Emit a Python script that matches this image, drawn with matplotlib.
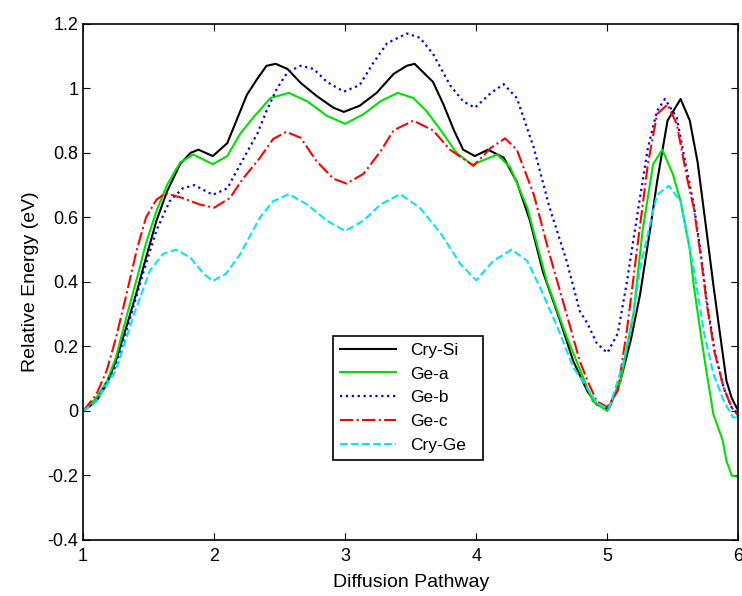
import matplotlib.pyplot as plt
from matplotlib.ticker import FuncFormatter

# Values
cry_si_x = [1.0, 1.10, 1.18, 1.25, 1.33, 1.41, 1.48, 1.56, 1.64, 1.74, 1.82, 1.88, 1.99,
            2.10, 2.17, 2.25, 2.33, 2.40, 2.47, 2.56, 2.66, 2.78, 2.91, 2.99, 3.11, 3.24,
            3.37, 3.47, 3.53, 3.67, 3.75, 3.83, 3.90, 3.99, 4.09, 4.21, 4.31, 4.41, 4.51,
            4.64, 4.74, 4.85, 4.92, 5.01, 5.10, 5.18, 5.25, 5.33, 5.38, 5.46, 5.56, 5.63,
            5.69, 5.76, 5.81, 5.86, 5.91, 5.95, 6.0]
cry_si_y = [0.0, 0.03, 0.083, 0.155, 0.26, 0.37, 0.475, 0.59, 0.68, 0.765, 0.80, 0.81, 0.79,
            0.83, 0.90, 0.98, 1.03, 1.07, 1.076, 1.06, 1.017, 0.977, 0.94, 0.927, 0.946, 0.986,
            1.045, 1.07, 1.076, 1.02, 0.95, 0.87, 0.81, 0.79, 0.81, 0.785, 0.71, 0.59, 0.43,
            0.28, 0.155, 0.06, 0.02, 0.005, 0.093, 0.22, 0.36, 0.57, 0.71, 0.90, 0.967, 0.90,
            0.77, 0.55, 0.39, 0.24, 0.093, 0.04, 0.0]

ge_a_x = [1.0, 1.10, 1.18, 1.25, 1.33, 1.41, 1.48, 1.56, 1.64, 1.74, 1.84, 1.99, 2.10,
          2.20, 2.30, 2.43, 2.57, 2.71, 2.86, 3.0, 3.14, 3.27, 3.40, 3.52, 3.62, 3.73,
          3.85, 3.97, 4.16, 4.26, 4.39, 4.54, 4.69, 4.79, 4.89, 5.0, 5.10, 5.20, 5.27,
          5.35, 5.42, 5.50, 5.56, 5.63, 5.66, 5.72, 5.76, 5.81, 5.88, 5.91, 5.95, 6.0]
ge_a_y = [0.0, 0.04, 0.09, 0.165, 0.29, 0.41, 0.52, 0.62, 0.70, 0.77, 0.795, 0.765, 0.79,
          0.86, 0.91, 0.97, 0.986, 0.96, 0.915, 0.89, 0.92, 0.96, 0.986, 0.97, 0.93, 0.87,
          0.80, 0.763, 0.795, 0.755, 0.63, 0.40, 0.23, 0.13, 0.03, 0.0, 0.09, 0.30, 0.56,
          0.765, 0.81, 0.735, 0.65, 0.50, 0.39, 0.22, 0.115, -0.01, -0.09, -0.155, -0.20, -0.205]

ge_b_x = [1.0, 1.10, 1.25, 1.36, 1.46, 1.56, 1.66, 1.76, 1.85, 1.99, 2.10, 2.20, 2.33,
          2.40, 2.48, 2.56, 2.66, 2.76, 2.86, 2.99, 3.11, 3.21, 3.32, 3.47, 3.57, 3.67,
          3.80, 3.90, 3.99, 4.11, 4.21, 4.31, 4.44, 4.56, 4.69, 4.79, 4.85, 4.92, 5.0,
          5.08, 5.15, 5.23, 5.31, 5.38, 5.44, 5.53, 5.61, 5.66, 5.71, 5.76, 5.82, 5.89,
          5.95, 6.0]
ge_b_y = [0.0, 0.03, 0.14, 0.29, 0.43, 0.56, 0.65, 0.69, 0.70, 0.67, 0.69, 0.765, 0.86,
          0.93, 1.0, 1.05, 1.07, 1.06, 1.02, 0.99, 1.01, 1.076, 1.14, 1.17, 1.157, 1.107,
          1.01, 0.96, 0.94, 0.985, 1.013, 0.97, 0.815, 0.63, 0.465, 0.31, 0.27, 0.21, 0.18,
          0.24, 0.40, 0.61, 0.815, 0.93, 0.967, 0.91, 0.74, 0.64, 0.50, 0.34, 0.186, 0.07,
          0.01, -0.01]

ge_c_x = [1.0, 1.10, 1.18, 1.25, 1.33, 1.41, 1.48, 1.56, 1.63, 1.76, 1.89, 2.0, 2.12,
          2.22, 2.35, 2.45, 2.55, 2.66, 2.78, 2.91, 3.01, 3.14, 3.27, 3.37, 3.52, 3.67,
          3.80, 3.98, 4.11, 4.22, 4.31, 4.44, 4.56, 4.69, 4.79, 4.85, 4.92, 5.0, 5.08,
          5.15, 5.23, 5.31, 5.38, 5.46, 5.53, 5.61, 5.66, 5.71, 5.76, 5.82, 5.89, 5.95, 6.0]
ge_c_y = [0.0, 0.05, 0.125, 0.225, 0.36, 0.50, 0.60, 0.655, 0.675, 0.66, 0.64, 0.63, 0.66,
          0.72, 0.785, 0.843, 0.865, 0.847, 0.775, 0.72, 0.705, 0.735, 0.805, 0.87, 0.90, 0.87,
          0.81, 0.76, 0.815, 0.845, 0.81, 0.67, 0.485, 0.30, 0.155, 0.093, 0.03, 0.012, 0.062,
          0.25, 0.51, 0.765, 0.92, 0.95, 0.89, 0.72, 0.63, 0.49, 0.33, 0.18, 0.07, 0.01, -0.015]

cry_ge_x = [1.0, 1.10, 1.25, 1.38, 1.51, 1.61, 1.71, 1.82, 1.92, 1.99, 2.09, 2.20, 2.35,
            2.45, 2.57, 2.71, 2.86, 3.0, 3.14, 3.27, 3.42, 3.57, 3.73, 3.88, 4.0, 4.13,
            4.27, 4.39, 4.49, 4.62, 4.74, 4.81, 4.92, 5.01, 5.12, 5.20, 5.25, 5.31, 5.38,
            5.47, 5.56, 5.66, 5.74, 5.81, 5.89, 5.96, 6.0]
cry_ge_y = [0.0, 0.03, 0.125, 0.29, 0.435, 0.487, 0.50, 0.475, 0.425, 0.403, 0.425, 0.487, 0.60,
            0.65, 0.672, 0.64, 0.59, 0.558, 0.59, 0.64, 0.672, 0.63, 0.55, 0.455, 0.405, 0.465,
            0.50, 0.465, 0.38, 0.26, 0.135, 0.095, 0.025, 0.005, 0.145, 0.30, 0.44, 0.55, 0.67,
            0.698, 0.65, 0.44, 0.24, 0.115, 0.03, -0.02, -0.02]

plt.rcParams['font.family'] = ['Liberation Sans', 'DejaVu Sans']

fig = plt.figure(figsize=(7.42, 5.96), dpi=100)
ax = fig.add_axes([0.112, 0.094, 0.883, 0.866])

ax.plot(cry_si_x, cry_si_y, color='black', linestyle='-', linewidth=1.5, label='Cry-Si')
ax.plot(ge_a_x, ge_a_y, color='#00e000', linestyle='-', linewidth=1.5, label='Ge-a')
ax.plot(ge_b_x, ge_b_y, color='#0000ff', linestyle=':', linewidth=1.6, label='Ge-b')
ax.plot(ge_c_x, ge_c_y, color='#ff0000', linestyle='-.', linewidth=1.5, label='Ge-c')
ax.plot(cry_ge_x, cry_ge_y, color='#00e5ff', linestyle='--', linewidth=1.5, label='Cry-Ge')

ax.set_xlim(1, 6)
ax.set_ylim(-0.4, 1.2)
ax.set_xticks([1, 2, 3, 4, 5, 6])
ax.set_yticks([-0.4, -0.2, 0, 0.2, 0.4, 0.6, 0.8, 1, 1.2])
ax.yaxis.set_major_formatter(FuncFormatter(lambda v, p: f"{v:g}"))
ax.tick_params(direction='in', top=True, right=True, labelsize=13, length=5)
ax.tick_params(axis='x', pad=6)
for s in ax.spines.values():
    s.set_linewidth(1.2)

ax.set_xlabel('Diffusion Pathway', fontsize=14, labelpad=6)
ax.set_ylabel('Relative Energy (eV)', fontsize=14, labelpad=6)

leg = ax.legend(loc='lower left', bbox_to_anchor=(0.382, 0.155, 0.229, 0.295), mode='expand',
                fontsize=12.5, fancybox=False, framealpha=1, edgecolor='black',
                handlelength=3.2, labelspacing=0.5, borderaxespad=0)
leg.get_frame().set_linewidth(1.2)

fig.savefig('out.png', dpi=100)
